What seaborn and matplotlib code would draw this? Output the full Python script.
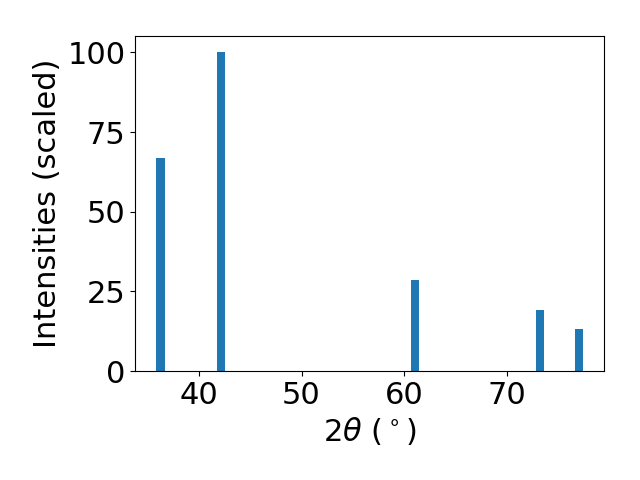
import numpy as np
import pandas as pd
import matplotlib
matplotlib.use("Agg")
import matplotlib.pyplot as plt
import seaborn as sns

two_theta = [36.28, 42.17, 61.06, 73.17, 76.97]
intensities = [66.8, 100.0, 28.6, 19.1, 13.2]
x_ticks = [40, 50, 60, 70]
y_ticks = [0, 25, 50, 75, 100]

df = pd.DataFrame({"two_theta": two_theta, "intensity": intensities})

fig = plt.figure(figsize=(6.4, 4.8), dpi=100)
ax = fig.add_axes([0.211, 0.227, 0.733, 0.697])

min_gap = np.min(np.diff(sorted(two_theta)))
sns.barplot(data=df, x="two_theta", y="intensity", native_scale=True,
            width=0.8 / min_gap, color="#1f77b4", saturation=1,
            errorbar=None, ax=ax)

ax.set_xlim(33.8, 79.44)
ax.set_ylim(0, 105)
ax.set_xticks(x_ticks)
ax.set_yticks(y_ticks)
ax.tick_params(labelsize=22)
ax.set_xlabel(r"2$\theta$ ($^\circ$)", fontsize=22)
ax.set_ylabel("Intensities (scaled)", fontsize=22)

fig.savefig("out.png", dpi=100)
